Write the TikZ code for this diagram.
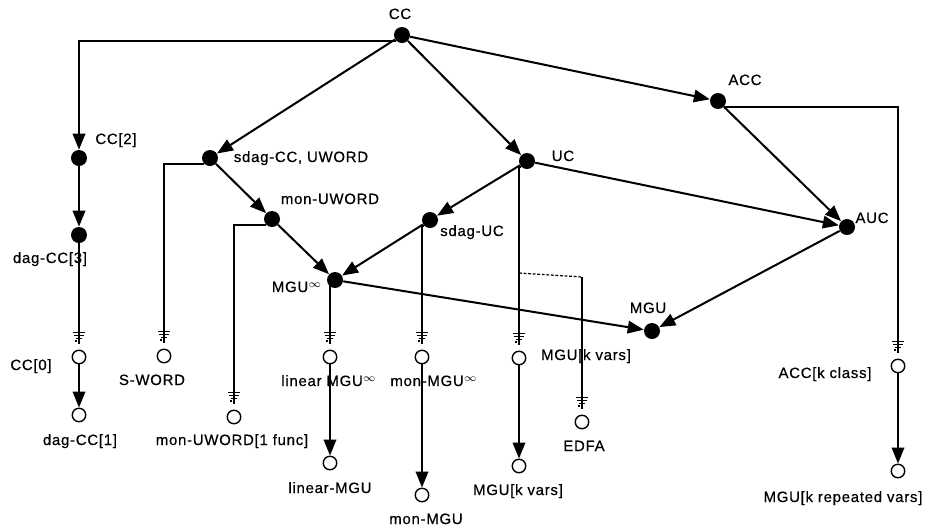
\documentclass[tikz,border=0pt]{standalone}
\usepackage{fontspec}
\setmainfont{Liberation Sans}
\newfontfamily\lblfamily{Liberation Sans}[LetterSpace=5, FakeBold=0.5]
\usetikzlibrary{arrows.meta,calc,decorations.markings}
\tikzset{
  dot/.style={circle, fill=black, inner sep=0pt, minimum size=0.32cm},
  ring/.style={circle, draw, line width=0.8pt, inner sep=0pt, minimum size=0.27cm},
  lbl/.style={font=\lblfamily\fontsize{8.5}{10}\selectfont, inner sep=0pt, anchor=base},
  arr/.style={line width=1.15pt, -{Triangle[length=0.32cm, width=0.25cm]}},
  gndline/.style={line width=0.7pt, shorten >=0.12cm, postaction={decorate},
    decoration={markings, mark=at position -0.34cm with {
      \draw[line width=0.7pt] (0pt,-3.3pt) -- (0pt,3.3pt)
        (1.6pt,-2.6pt) -- (1.6pt,2.6pt) (3.2pt,-1.8pt) -- (3.2pt,1.8pt)
        (4.8pt,-1pt) -- (4.8pt,1pt);}}},
  dashline/.style={line width=0.7pt, dash pattern=on 1.6pt off 1pt},
}
\begin{document}
\begin{tikzpicture}[x=0.02cm, y=-0.02cm]
\useasboundingbox (0,0) rectangle (934,529);
% Filled classes
\foreach \n/\x/\y in {cc/402/35, cctwo/79/158, dagcc3/79/235, sdagcc/210/158,
  monuword/272/219, mguinf/335/280, uc/527/161, sdaguc/430/220,
  acc/718/101, auc/847/227, mgu/652/331}{
  \node[dot] (\n) at (\x,\y) {};
}
% Open classes
\foreach \n/\x/\y in {cczero/79/357, dagccone/79/415, sword/164/356,
  monuwordone/234/417, linmguinf/330/357, linmgu/330/463,
  monmguinf/422/357, monmgu/422/495, mgukv/519/358, mgukvb/519/466,
  edfa/582/422, acckc/898/366, mgukrv/898/471}{
  \node[ring] (\n) at (\x,\y) {};
}
% Labels
\foreach \n/\x/\y/\t in {cc/400/19/CC, cctwo/116/144/{CC[2]},
  dagcc3/50/263/{dag-CC[3]}, sdagcc/301/162/{sdag-CC, UWORD},
  monuword/330/204/mon-UWORD, mguinf/297/292/{MGU$^{\infty}$},
  uc/563/161/UC, sdaguc/472/236/sdag-UC, acc/745/85/ACC,
  auc/872/223/AUC, mgu/648/313/MGU, cczero/31/370/{CC[0]},
  sword/152/385/S-WORD, dagccone/80/445/{dag-CC[1]},
  monuwordone/232/445/{mon-UWORD[1 func]},
  linmguinf/329/386/{linear MGU$^{\infty}$}, linmgu/330/493/linear-MGU,
  monmguinf/434/386/{mon-MGU$^{\infty}$}, monmgu/426/524/mon-MGU,
  mgukv/586/360/{MGU[k vars]}, mgukvb/518/495/{MGU[k vars]},
  edfa/584/451/EDFA, acckc/825/378/{ACC[k class]},
  mgukrv/843/502/{MGU[k repeated vars]}}{
  \node[lbl] (l-\n) at (\x,\y) {\t};
}
% Inclusions
\draw[arr] (cc.south west) -| (cctwo);
\draw[arr] (cc) -- (sdagcc);
\draw[arr] (cc) -- (uc);
\draw[arr] (cc) -- (acc);
\draw[arr] (cctwo) -- (dagcc3);
\draw[arr] (sdagcc) -- (monuword);
\draw[arr] (monuword) -- (mguinf);
\draw[arr] (uc) -- (sdaguc);
\draw[arr] (uc) -- (auc);
\draw[arr] (sdaguc) -- (mguinf);
\draw[arr] (mguinf) -- (mgu);
\draw[arr] (acc) -- (auc);
\draw[arr] (auc) -- (mgu);
\draw[arr] (cczero) -- (dagccone);
\draw[arr] (linmguinf) -- (linmgu);
\draw[arr] (monmguinf) -- (monmgu);
\draw[arr] (mgukv) -- (mgukvb);
\draw[arr] (acckc) -- (mgukrv);
% Grounded restrictions
\draw[gndline] (dagcc3) -- (cczero);
\draw[gndline] (sdagcc.south west) -| (sword.north);
\draw[gndline] (monuword.south west) -| (monuwordone.north);
\draw[gndline] (mguinf.south west) -| (linmguinf.north);
\draw[gndline] (sdaguc.south west) -| (monmguinf.north);
\draw[gndline] (uc.south west) -| (mgukv.north);
\draw[gndline] (acc.south east) -| (acckc.north);
% Dashed branch to EDFA
\coordinate (dsplit) at (519,273);
\coordinate (dcorner) at (582,277);
\draw[dashline] (dsplit) -- (dcorner);
\draw[gndline] (dcorner) -- (edfa);
\end{tikzpicture}
\end{document}
